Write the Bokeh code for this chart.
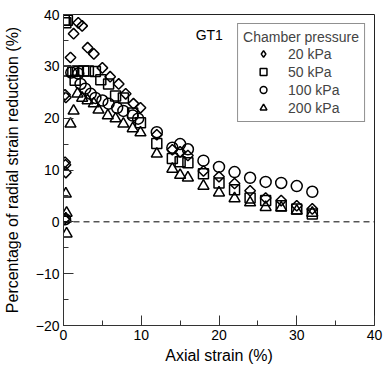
import math
from bokeh.plotting import figure
from bokeh.models import Legend, LegendItem, Span, Label, FixedTicker, Range1d
from bokeh.embed import file_html
from bokeh.resources import INLINE

# ---- data ----
x_20 = [0.1, 0.2, 0.25, 0.3, 0.2, 0.3, 0.9, 1.3, 1.9, 2.4, 3.1, 3.9, 5.0, 6.0, 7.1, 8.0, 9.0, 9.9,
        12, 14, 15, 16, 18, 20, 22, 24, 26, 28, 30, 32]
y_20 = [0.5, 11.5, 11.0, 9.5, 24.5, 24.0, 31.7, 36.3, 38.4, 37.8, 33.6, 32.4, 29.7, 28.0, 26.6, 24.7, 22.8, 22.0,
        16.8, 13.9, 13.5, 12.8, 9.8, 8.7, 7.4, 6.0, 4.6, 4.1, 3.1, 2.5]

x_50 = [0.1, 0.3, 0.5, 0.3, 1.2, 1.5, 1.8, 2.6, 3.2, 4.1, 4.8, 5.8, 6.7, 7.7, 8.9, 9.9,
        12, 14, 15, 16, 18, 20, 22, 24, 26, 28, 30, 32]
y_50 = [38.9, 38.4, 38.9, 29.1, 29.0, 27.3, 29.1, 29.1, 29.1, 29.0, 27.4, 26.6, 24.3, 23.9, 21.0, 19.1,
        15.1, 12.2, 11.6, 11.4, 9.3, 7.5, 6.2, 4.6, 4.1, 3.1, 2.5, 1.5]

x_100 = [0.2, 1.0, 1.9, 2.2, 2.8, 3.5, 4.1, 5.0, 5.8, 6.9, 7.7, 8.9, 9.6,
         12, 14, 15, 16, 18, 20, 22, 24, 26, 28, 30, 32]
y_100 = [0.5, 28.8, 28.6, 26.6, 25.7, 24.7, 23.9, 23.4, 22.8, 22.0, 21.4, 20.5, 19.9,
         17.3, 14.3, 15.0, 14.0, 11.8, 10.6, 9.6, 8.5, 7.7, 7.5, 6.9, 5.8]

x_200 = [0.3, 0.4, 0.3, 0.4, 0.9, 1.3, 1.8, 2.4, 3.1, 3.9, 4.5, 5.7, 6.7, 7.7, 8.9, 9.9,
         12, 14, 15, 16, 18, 20, 22, 24, 26, 28, 30, 32]
y_200 = [5.4, 1.7, 0.6, -2.3, 18.9, 21.4, 24.7, 23.9, 23.4, 22.8, 21.6, 20.5, 19.9, 18.9, 18.0, 17.2,
         13.1, 10.2, 9.0, 8.5, 6.9, 5.6, 4.5, 3.7, 2.8, 2.7, 2.1, 1.7]

x_ticks = [0, 10, 20, 30, 40]
x_minor = [5, 15, 25, 35]
y_ticks = [-20, -10, 0, 10, 20, 30, 40]
y_minor = [-15, -5, 5, 15, 25, 35]

labels = ["20 kPa", "50 kPa", "100 kPa", "200 kPa"]

FONT = "Liberation Sans"

p = figure(width=386, height=367, x_range=Range1d(0, 40), y_range=Range1d(-20, 40),
           output_backend="svg", toolbar_location=None,
           min_border_left=63, min_border_right=12, min_border_top=14, min_border_bottom=42)
p.xgrid.visible = False
p.ygrid.visible = False
p.outline_line_color = "#222222"
p.outline_line_width = 1
p.background_fill_color = "white"
p.border_fill_color = "white"

for ax, tk, mn in ((p.xaxis[0], x_ticks, x_minor), (p.yaxis[0], y_ticks, y_minor)):
    ax.ticker = FixedTicker(ticks=tk, minor_ticks=mn)
    ax.major_tick_in = 10
    ax.major_tick_out = 0
    ax.minor_tick_in = 5
    ax.minor_tick_out = 0
    ax.axis_line_color = "#333333"
    ax.major_tick_line_color = "#333333"
    ax.minor_tick_line_color = "#333333"
    ax.major_label_text_font = FONT
    ax.major_label_text_font_size = "14px"
    ax.major_label_text_color = "black"
    ax.major_label_standoff = 4
    ax.axis_label_text_font = FONT
    ax.axis_label_text_font_size = "16px"
    ax.axis_label_text_font_style = "normal"
    ax.axis_label_text_color = "black"

p.xaxis.axis_label = "Axial strain (%)"
p.yaxis.axis_label = "Percentage of radial strain reduction (%)"
p.xaxis.axis_label_standoff = 4
p.yaxis.axis_label_standoff = 12

p.add_layout(Span(location=0, dimension="width", line_color="black", line_width=1, line_dash="6 4"))

common = dict(fill_color=None, line_color="black", line_width=1.5)
r20 = p.scatter(x_20, y_20, marker="square", angle=math.pi / 4, size=7.5, **common)
r50 = p.scatter(x_50, y_50, marker="square", size=10, **common)
r100 = p.scatter(x_100, y_100, marker="circle", size=11, **common)
r200 = p.scatter(x_200, y_200, marker="triangle", size=11, **common)
# legend-only swatch for the diamond symbol (legend swatches ignore marker angle); NaN -> never drawn in the plot
r20_leg = p.scatter([float("nan")], [float("nan")], marker="diamond", size=10, **common)

p.add_layout(Label(x=17, y=36.1, text="GT1", text_font=FONT, text_font_size="14px",
                   text_baseline="middle", text_color="black"))

legend = Legend(items=[LegendItem(label=l, renderers=[r]) for l, r in zip(labels, [r20_leg, r50, r100, r200])],
                title="Chamber pressure", location="top_right", margin=9,
                padding=5, spacing=1, glyph_width=40, glyph_height=17, label_height=17,
                label_standoff=5, title_standoff=0,
                label_text_font=FONT, label_text_font_size="14px",
                title_text_font=FONT, title_text_font_size="14px", title_text_font_style="normal",
                border_line_color="#222222", border_line_width=1, background_fill_alpha=1)
p.add_layout(legend)

open("out.html", "w").write(file_html(p, INLINE))
